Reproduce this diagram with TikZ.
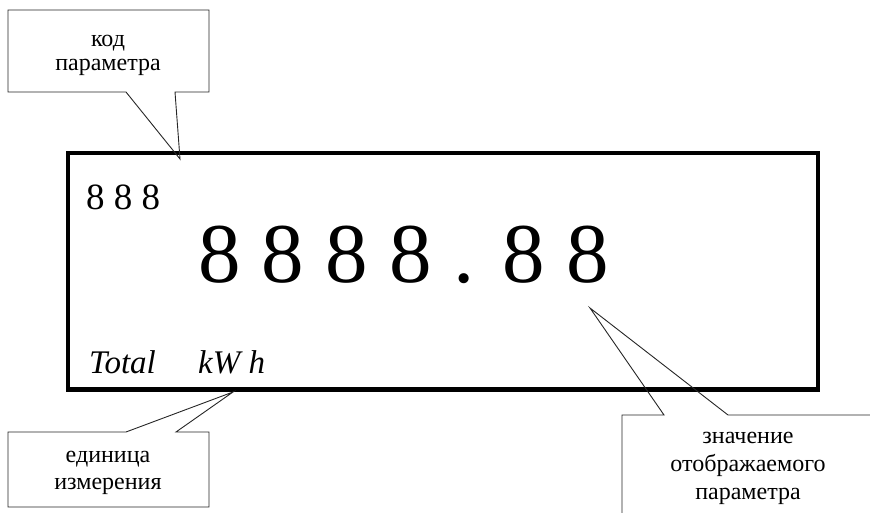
\documentclass[tikz,border=0pt]{standalone}
\usepackage{fontspec}
\setmainfont{Liberation Serif}
\usetikzlibrary{positioning}

\begin{document}
\begin{tikzpicture}[
            x=1pt, y=-1pt,
            display/.style={rectangle, draw, line width=4.5pt, minimum width=750pt,
                           minimum height=236.5pt, inner sep=0pt},
            callout/.style={draw=black!85, line width=0.9pt, line join=miter},
            note/.style={align=center, inner sep=0pt},
            digits/.style={anchor=base west, inner sep=0pt}
        ]
            \useasboundingbox (0,0) rectangle (870,513);
            \clip (0,0) rectangle (870,513);

            % Display
            \node[display] (disp) at (443,271.25) {};
            \node[digits, font=\fontsize{37}{37}\selectfont] (code) at (86,210) {8 8 8};
            \node[digits, font=\fontsize{85}{85}\selectfont] (value) at (198,282) {8 8 8 8 . 8 8};
            \node[digits, font=\fontsize{33}{33}\selectfont\itshape] (total) at (89,373) {Total};
            \node[digits, font=\fontsize{33}{33}\selectfont\itshape] (unit) at (198,373) {kW h};

            % Tips
            \coordinate (tipcode) at (180,159);
            \coordinate (tipunit) at (233,392);
            \coordinate (tipvalue) at (590,308);

            % Callouts
            \draw[callout] (8,10) -- (209,10) -- (209,92) -- (175,92) -- (tipcode)
                -- (126,92) -- (8,92) -- cycle;
            \draw[callout] (8,432) -- (126,432) -- (tipunit) -- (176,432)
                -- (209,432) -- (209,507) -- (8,507) -- cycle;
            \draw[callout] (622,530) -- (622,415) -- (664,415) -- (tipvalue)
                -- (728,415) -- (880,415);

            % Labels
            \node[note, font=\fontsize{24}{24}\selectfont] (lblcode) at (108,55) {код\\параметра};
            \node[note, font=\fontsize{24}{27}\selectfont] (lblunit) at (108,473) {единица\\измерения};
            \node[note, font=\fontsize{24}{28}\selectfont] (lblvalue) at (748,468) {значение\\отображаемого\\параметра};
        \end{tikzpicture}
\end{document}
